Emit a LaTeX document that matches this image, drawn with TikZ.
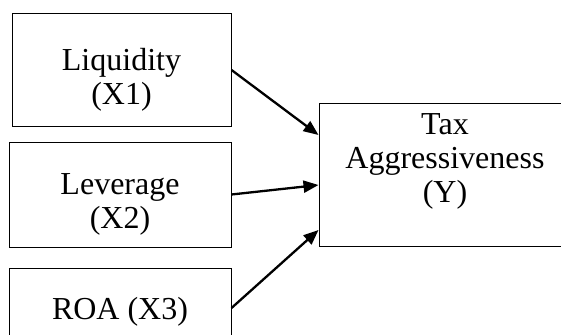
\documentclass[tikz,border=0pt]{standalone}
\usepackage{fontspec}
\setmainfont{Liberation Serif}
\usepackage{tikz}
\usetikzlibrary{arrows.meta}
\tikzstyle{box} = [rectangle, draw=black, line width=1pt, inner sep=0pt]
\tikzstyle{lbl} = [align=center, inner sep=0pt, font=\fontsize{32}{34}\selectfont]
\tikzstyle{arrow} = [line width=2.3pt,-{Triangle[length=15pt,width=12pt]}]

\begin{document}
\begin{tikzpicture}[x=1pt,y=-1pt]

\useasboundingbox (0,0) rectangle (561,334);
\clip (0,0) rectangle (561,334);

\node (liq) [box, minimum width=219pt, minimum height=112pt] at (121.5,70) {};
\node (lev) [box, minimum width=222pt, minimum height=105pt] at (120,194.5) {};
\node (roa) [box, minimum width=222pt, minimum height=80pt] at (120,308) {};
\node (tax) [box, minimum width=252pt, minimum height=143pt] at (445,174.5) {};

\node (liqtxt) [lbl] at ([yshift=-10pt]liq.center) {Liquidity\\(X1)};
\node (levtxt) [lbl] at ([yshift=-10pt]lev.center) {Leverage\\(X2)};
\node (roatxt) [lbl] at ([yshift=-4pt]roa.center) {ROA (X3)};
\node (taxtxt) [lbl] at ([yshift=13pt]tax.center) {Tax\\Aggressiveness\\(Y)};

\draw [arrow] (liq.east) -- ([yshift=39.5pt]tax.west);
\draw [arrow] (lev.east) -- ([yshift=-10.5pt]tax.west);
\draw [arrow] (roa.east) -- ([yshift=-55.5pt]tax.west);

\end{tikzpicture}
\end{document}
